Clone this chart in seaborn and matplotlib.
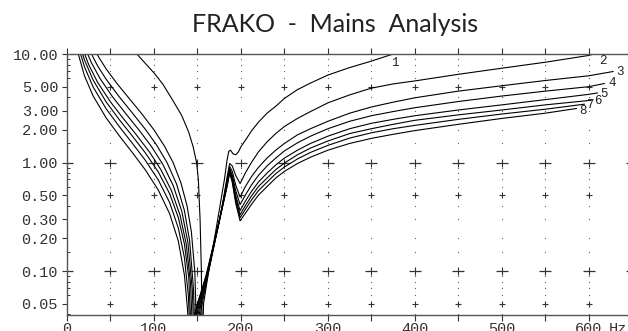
import pandas as pd
import matplotlib
matplotlib.use("Agg")
import matplotlib.pyplot as plt
import seaborn as sns

# impedance (Ohm) vs frequency (Hz), one pair of lists per curve
f1 = [78, 90, 100, 110, 122, 132, 140, 145, 149, 151, 153, 154.5, 155.5,
      157, 162, 167, 172, 177, 181, 184, 186, 188, 191, 194, 197, 200,
      205, 212, 220, 230, 240, 250, 265, 280, 300, 325, 350, 375]
z1 = [10.5, 8.2, 6.7, 5.3, 3.7, 2.7, 1.9, 1.4, 1.0, 0.7, 0.3, 0.1, 0.02,
      0.05, 0.09, 0.15, 0.26, 0.45, 0.7, 1.05, 1.27, 1.3, 1.2, 1.18, 1.25, 1.4,
      1.6, 1.95, 2.35, 2.85, 3.3, 3.9, 4.7, 5.4, 6.4, 7.5, 8.6, 10.0]

f2 = [32, 45, 58, 72, 86, 100, 112, 122, 131, 138, 143, 147, 149.5,
      152.5, 155, 160, 165, 170, 175, 180, 184, 187, 190, 194, 199,
      205, 212, 220, 230, 240, 250, 265, 280, 300, 325, 350, 375, 400, 450, 500, 550, 600, 605]
z2 = [10.7, 7.28, 5.28, 3.85, 2.81, 2.0, 1.42, 1.0, 0.65, 0.4, 0.23, 0.097, 0.02,
      0.035, 0.048, 0.077, 0.12, 0.185, 0.285, 0.47, 0.73, 0.98, 0.93, 0.76, 0.64,
      0.8, 1.0, 1.25, 1.55, 1.85, 2.15, 2.55, 2.95, 3.55, 4.2, 4.85, 5.3, 5.65, 6.5, 7.4, 8.4, 9.7, 10.0]

f3 = [26, 35, 45, 60, 75, 90, 103, 115, 126, 135, 141, 145.5, 147.5,
      151, 154, 157, 160, 165, 170, 175, 180, 184, 187, 190, 194, 199,
      205, 212, 220, 230, 240, 250, 265, 280, 300, 325, 350, 375, 400, 450, 500, 550, 600, 628]
z3 = [10.81, 7.82, 5.85, 4.04, 2.87, 2.03, 1.45, 1.0, 0.633, 0.361, 0.19, 0.067, 0.02,
      0.035, 0.05, 0.062, 0.08, 0.122, 0.187, 0.285, 0.46, 0.69, 0.92, 0.83, 0.62, 0.48,
      0.6, 0.74, 0.9, 1.1, 1.3, 1.5, 1.8, 2.05, 2.4, 2.85, 3.25, 3.6, 3.95, 4.55, 5.1, 5.7, 6.3, 6.9]

f4 = [21, 28, 38, 52, 67, 82, 97, 110, 122, 132, 139, 144, 146.5,
      149.5, 153, 155, 160, 165, 170, 175, 180, 184, 187, 190, 194, 199,
      205, 212, 220, 230, 240, 250, 265, 280, 300, 325, 350, 375, 400, 450, 500, 550, 600, 618]
z4 = [11.29, 8.33, 5.94, 4.07, 2.86, 2.03, 1.41, 0.968, 0.617, 0.355, 0.184, 0.068, 0.02,
      0.035, 0.05, 0.058, 0.083, 0.125, 0.19, 0.285, 0.45, 0.66, 0.88, 0.77, 0.55, 0.41,
      0.5, 0.62, 0.76, 0.93, 1.1, 1.28, 1.52, 1.75, 2.05, 2.4, 2.7, 2.95, 3.2, 3.65, 4.1, 4.55, 5.0, 5.35]

f5 = [18, 25, 35, 50, 65, 80, 95, 108, 120, 130, 137, 142, 145,
      148, 152, 155, 160, 165, 170, 175, 180, 184, 187, 190, 194, 199,
      205, 212, 220, 230, 240, 250, 265, 280, 300, 325, 350, 375, 400, 450, 500, 550, 600, 610]
z5 = [11.2, 7.96, 5.52, 3.62, 2.53, 1.79, 1.244, 0.859, 0.554, 0.327, 0.179, 0.078, 0.02,
      0.035, 0.05, 0.062, 0.086, 0.128, 0.192, 0.285, 0.445, 0.64, 0.86, 0.73, 0.5, 0.36,
      0.44, 0.54, 0.66, 0.8, 0.95, 1.1, 1.3, 1.5, 1.75, 2.05, 2.3, 2.5, 2.7, 3.05, 3.4, 3.8, 4.25, 4.38]

f6 = [16, 20, 30, 45, 60, 75, 90, 105, 118, 128, 135, 140, 143.5,
      147, 151, 155, 160, 165, 170, 175, 180, 184, 187, 190, 194, 199,
      205, 212, 220, 230, 240, 250, 265, 280, 300, 325, 350, 375, 400, 450, 500, 550, 603]
z6 = [11.14, 8.85, 5.76, 3.62, 2.49, 1.76, 1.23, 0.818, 0.517, 0.311, 0.178, 0.087, 0.02,
      0.035, 0.05, 0.064, 0.088, 0.13, 0.195, 0.29, 0.44, 0.62, 0.84, 0.7, 0.47, 0.33,
      0.4, 0.49, 0.6, 0.72, 0.86, 0.99, 1.18, 1.36, 1.58, 1.85, 2.05, 2.25, 2.45, 2.75, 3.05, 3.4, 3.75]

f7 = [14, 20, 30, 45, 60, 75, 90, 105, 118, 128, 135, 139.5, 142,
      146, 150, 155, 160, 165, 170, 175, 180, 184, 187, 190, 194, 199,
      205, 212, 220, 230, 240, 250, 265, 280, 300, 325, 350, 375, 400, 450, 500, 550, 595]
z7 = [11.04, 7.65, 4.97, 3.13, 2.15, 1.51, 1.05, 0.69, 0.428, 0.249, 0.133, 0.06, 0.02,
      0.035, 0.05, 0.066, 0.09, 0.132, 0.198, 0.29, 0.435, 0.61, 0.82, 0.68, 0.44, 0.31,
      0.37, 0.45, 0.55, 0.66, 0.79, 0.91, 1.08, 1.24, 1.44, 1.68, 1.88, 2.05, 2.2, 2.5, 2.8, 3.1, 3.45]

f8 = [12, 20, 30, 45, 60, 75, 90, 105, 118, 128, 135, 138.5, 141,
      145, 150, 155, 160, 165, 170, 175, 180, 184, 187, 190, 194, 199,
      205, 212, 220, 230, 240, 250, 265, 280, 300, 325, 350, 375, 400, 450, 500, 550, 586]
z8 = [10.67, 6.32, 4.11, 2.58, 1.77, 1.24, 0.857, 0.557, 0.338, 0.189, 0.092, 0.045, 0.02,
      0.035, 0.05, 0.068, 0.092, 0.135, 0.2, 0.29, 0.43, 0.6, 0.8, 0.66, 0.42, 0.29,
      0.34, 0.41, 0.5, 0.6, 0.72, 0.83, 0.98, 1.12, 1.3, 1.5, 1.67, 1.82, 1.97, 2.25, 2.55, 2.85, 3.15]

curves = [f1, f2, f3, f4, f5, f6, f7, f8]
values = [z1, z2, z3, z4, z5, z6, z7, z8]
curve_names = ["1", "2", "3", "4", "5", "6", "7", "8"]

y_ticks = [0.05, 0.1, 0.2, 0.3, 0.5, 1, 2, 3, 5, 10]
y_labels = ["0.05", "0.10", "0.20", "0.30", "0.50", "1.00", "2.00", "3.00", "5.00", "10.00"]
x_ticks = [0, 100, 200, 300, 400, 500, 600]

# label offsets (points) from the end of each curve
label_off = [(1.4, -6.5), (7.2, -5), (4.5, -0.7), (5.8, 0.5), (5, -0.8), (4.5, -0.8), (4, -0.6), (4.3, -1.5)]

df = pd.concat([pd.DataFrame({"freq": f, "z": z, "curve": n})
                for f, z, n in zip(curves, values, curve_names)], ignore_index=True)

sns.set_style("white")
plt.rcParams['font.family'] = ['Liberation Mono', 'DejaVu Sans Mono']

fig = plt.figure(figsize=(6.28, 3.31), dpi=100)
ax = fig.add_axes([67/628, 16/331, 561/628, 261/331])

# grid of dots and crosses like the original plotter output
grid_cols = list(range(50, 651, 50))
dot_rows = [0.04, 0.06, 0.07, 0.08, 0.09, 0.15, 0.2, 0.3, 0.4, 0.6, 0.7, 0.8, 0.9,
            1.5, 2, 3, 4, 6, 7, 8, 9]
for c in grid_cols:
    ax.plot([c] * len(dot_rows), dot_rows, ls="none", marker="s", ms=0.8,
            mec="none", mfc="#666666", clip_on=True)
    ax.plot([c] * 3, [0.05, 0.5, 5], ls="none", marker="+", ms=5, mew=0.8,
            color="#333333")
for c in [0] + grid_cols:
    ax.plot([c, c], [0.1, 1], ls="none", marker="_", ms=9, mew=0.9, color="#333333")
    if c > 0:
        ax.plot([c, c], [0.1, 1], ls="none", marker="|", ms=6, mew=0.8, color="#333333")

sns.lineplot(data=df, x="freq", y="z", units="curve", estimator=None, sort=False,
             color="black", linewidth=0.8, legend=False, ax=ax)

for f, z, n, off in zip(curves, values, curve_names, label_off):
    ax.annotate(n, (f[-1], z[-1]), xytext=off, textcoords="offset points",
                ha="center", va="center", fontsize=9, color="#222222")

ax.set_yscale("log")
ax.set_ylim(0.0394, 10)
ax.set_xlim(0, 645)
ax.set_yticks(y_ticks)
ax.set_yticklabels(y_labels)
ax.set_yticks(dot_rows, minor=True)
ax.yaxis.set_minor_formatter(matplotlib.ticker.NullFormatter())
ax.set_xticks(x_ticks)
ax.set_xticklabels([str(v) for v in x_ticks])
ax.set_xticks(list(range(50, 601, 100)), minor=True)
ax.set_xlabel("")
ax.set_ylabel("")

ax.tick_params(axis="y", which="major", direction="out", length=3.6, width=0.8,
               pad=2.8, labelsize=11, colors="#333333", left=True)
ax.tick_params(axis="y", which="minor", direction="in", length=2.2, width=0.7,
               left=True, color="#333333")
ax.tick_params(axis="x", which="both", direction="out", length=4.3, width=0.8,
               pad=0.5, labelsize=11, colors="#333333", bottom=True, top=True)

for s in ["left", "bottom", "top"]:
    ax.spines[s].set_color("#555555")
    ax.spines[s].set_linewidth(1.0)
ax.spines["right"].set_visible(False)

ax.annotate("Hz", (633, 0), xycoords=("data", "axes fraction"), xytext=(0, -4.8),
            textcoords="offset points", ha="center", va="top", fontsize=11, color="#333333")

fig.text(335/628, 1 - 25/331, "FRAKO  -  Mains  Analysis", ha="center", va="center",
         fontsize=18, family="Lato", color="#222222")

fig.savefig("out.png", dpi=100)
